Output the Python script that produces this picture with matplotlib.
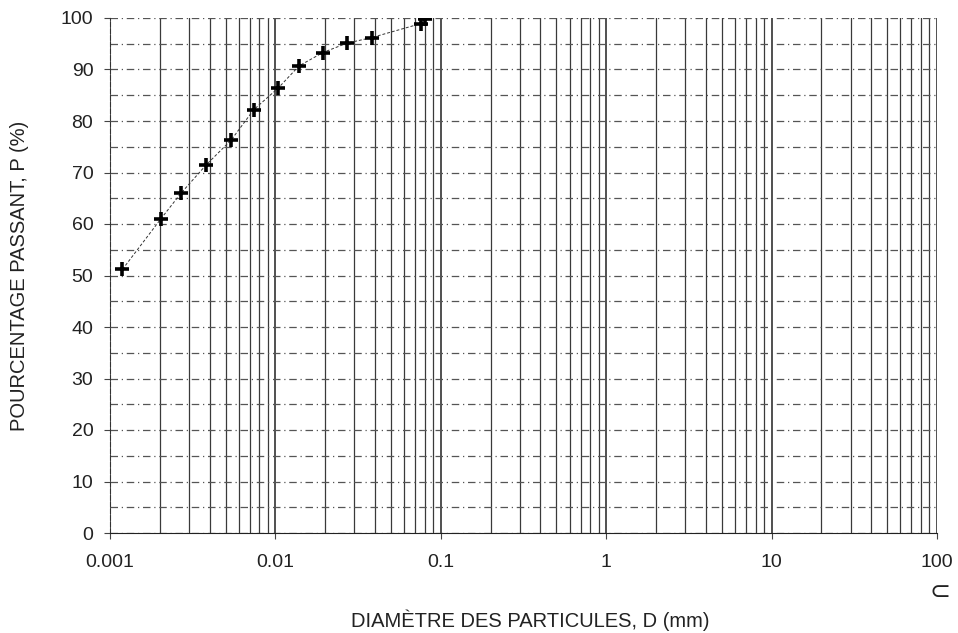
import numpy as np
import matplotlib.pyplot as plt
from matplotlib.ticker import LogLocator, FixedLocator, NullFormatter

plt.rcParams['font.family'] = ['Liberation Sans', 'DejaVu Sans']

# granulometrie (sedimentometrie + tamis fin)
diam = [0.00119, 0.00203, 0.00269, 0.00382, 0.0054, 0.0074, 0.0104,
        0.0139, 0.0194, 0.027, 0.0382, 0.0755, 0.0803]
passant = [51.2, 61.0, 66.0, 71.5, 76.3, 82.2, 86.4,
           90.7, 93.3, 95.1, 96.2, 98.9, 99.9]
xticks = [0.001, 0.01, 0.1, 1, 10, 100]
xticklabels = ['0.001', '0.01', '0.1', '1', '10', '100']
yticks = list(range(0, 101, 10))

fig = plt.figure(figsize=(9.58, 6.33), dpi=100)
ax = fig.add_axes([110/958, 1-533/633, 827/958, 515/633])

ax.set_xscale('log')
ax.set_xlim(0.001, 100)
ax.set_ylim(0, 100)

# quadrillage log vertical
ax.xaxis.set_major_locator(FixedLocator(xticks))
ax.set_xticklabels(xticklabels)
ax.xaxis.set_minor_locator(LogLocator(base=10, subs=np.arange(2, 10)))
ax.xaxis.set_minor_formatter(NullFormatter())
ax.grid(True, which='major', axis='x', color='#202020', lw=1.1, ls='-')
ax.grid(True, which='minor', axis='x', color='#3a3a3a', lw=0.9, ls='-')

# quadrillage horizontal tous les 5 %
ax.set_yticks(yticks)
ax.set_yticks(np.arange(5, 100, 10), minor=True)
ax.grid(True, which='both', axis='y', color='#555555', lw=0.9, ls=(0, (6, 3, 1, 3)))

ax.plot(diam, passant, color='#333333', lw=0.7, ls=(0, (3, 2)), zorder=3)
ax.plot(diam, passant, ls='none', marker='+', ms=10, mew=2.6, color='black',
        zorder=5)

for s in ['top', 'right']:
    ax.spines[s].set_visible(False)
ax.spines['left'].set_linestyle((0, (4, 2)))
ax.spines['left'].set_color('#333333')
ax.spines['bottom'].set_color('#222222')

ax.tick_params(axis='both', which='major', labelsize=14, length=4,
               color='#444444', labelcolor='#222222')
ax.tick_params(axis='both', which='minor', length=0)
ax.tick_params(axis='x', pad=11)
ax.tick_params(axis='y', pad=8)

ax.set_ylabel('POURCENTAGE PASSANT, P (%)', fontsize=14.5, color='#222222',
              va='center')
ax.yaxis.set_label_coords(-90/827, 0.5)
ax.set_xlabel('DIAMÈTRE DES PARTICULES, D (mm)', fontsize=14.5, color='#222222',
              va='center')
ax.xaxis.set_label_coords((530-110)/827, -87/515)
fig.text(940/958, 1-592/633, '⊂', fontsize=18, color='#222222',
         ha='center', va='center', family=['DejaVu Sans'])

fig.savefig('out.png', dpi=100, facecolor='white')
